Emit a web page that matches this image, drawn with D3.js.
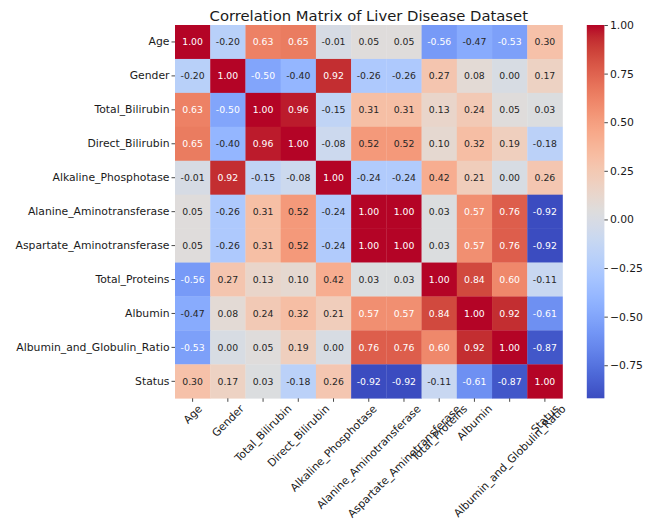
<!DOCTYPE html>
<html>
<head>
<meta charset="utf-8">
<script src="https://cdn.jsdelivr.net/npm/d3@7"></script>
<style>
  html, body { margin: 0; padding: 0; background: #ffffff; }
  svg { display: block; font-family: "DejaVu Sans", sans-serif; }
</style>
</head>
<body>
<svg id="chart" width="648" height="520"></svg>
<script>
// Feature names (rows and columns share the same order)
const features = [
  "Age", "Gender", "Total_Bilirubin", "Direct_Bilirubin", "Alkaline_Phosphotase",
  "Alanine_Aminotransferase", "Aspartate_Aminotransferase", "Total_Proteins",
  "Albumin", "Albumin_and_Globulin_Ratio", "Status"
];

// Pairwise correlation coefficients, one row per feature
const rowAge       = [ 1.00, -0.20,  0.63,  0.65, -0.01,  0.05,  0.05, -0.56, -0.47, -0.53,  0.30];
const rowGender    = [-0.20,  1.00, -0.50, -0.40,  0.92, -0.26, -0.26,  0.27,  0.08,  0.00,  0.17];
const rowTotBili   = [ 0.63, -0.50,  1.00,  0.96, -0.15,  0.31,  0.31,  0.13,  0.24,  0.05,  0.03];
const rowDirBili   = [ 0.65, -0.40,  0.96,  1.00, -0.08,  0.52,  0.52,  0.10,  0.32,  0.19, -0.18];
const rowAlkPhos   = [-0.01,  0.92, -0.15, -0.08,  1.00, -0.24, -0.24,  0.42,  0.21,  0.00,  0.26];
const rowAlanine   = [ 0.05, -0.26,  0.31,  0.52, -0.24,  1.00,  1.00,  0.03,  0.57,  0.76, -0.92];
const rowAspartate = [ 0.05, -0.26,  0.31,  0.52, -0.24,  1.00,  1.00,  0.03,  0.57,  0.76, -0.92];
const rowTotProt   = [-0.56,  0.27,  0.13,  0.10,  0.42,  0.03,  0.03,  1.00,  0.84,  0.60, -0.11];
const rowAlbumin   = [-0.47,  0.08,  0.24,  0.32,  0.21,  0.57,  0.57,  0.84,  1.00,  0.92, -0.61];
const rowAGRatio   = [-0.53,  0.00,  0.05,  0.19,  0.00,  0.76,  0.76,  0.60,  0.92,  1.00, -0.87];
const rowStatus    = [ 0.30,  0.17,  0.03, -0.18,  0.26, -0.92, -0.92, -0.11, -0.61, -0.87,  1.00];
const corr = [rowAge, rowGender, rowTotBili, rowDirBili, rowAlkPhos, rowAlanine,
              rowAspartate, rowTotProt, rowAlbumin, rowAGRatio, rowStatus];

// Colour bar tick values
const colorbarTicks = [1.00, 0.75, 0.50, 0.25, 0.00, -0.25, -0.50, -0.75];

const titleText = "Correlation Matrix of Liver Disease Dataset";

// Cool-warm diverging colour map (Moreland), 33 anchor colours
const coolwarmAnchors = [
  [59,76,192],[68,90,204],[77,104,215],[87,117,225],[98,130,234],[108,142,241],
  [119,154,247],[130,165,251],[141,176,254],[152,185,255],[163,194,255],[174,201,253],
  [184,208,249],[194,213,244],[204,217,238],[213,219,230],[221,221,221],[229,216,209],
  [236,211,197],[241,204,185],[245,196,173],[247,187,160],[247,177,148],[247,166,135],
  [244,154,123],[241,141,111],[236,127,99],[229,112,88],[222,96,77],[213,80,66],
  [203,62,56],[192,40,47],[180,4,38]
];
const coolwarm = d3.piecewise(d3.interpolateRgb, coolwarmAnchors.map(c => d3.rgb(c[0], c[1], c[2])));

// 256-entry lookup table, as a colour map with discrete levels
const lut = d3.range(256).map(i => coolwarm(i / 255));

const allVals = corr.flat();
const vmin = d3.min(allVals), vmax = d3.max(allVals);
const norm = d3.scaleLinear().domain([vmin, vmax]).range([0, 1]).clamp(true);
const colorOf = v => lut[Math.min(255, Math.floor(norm(v) * 256))];

// Text colour chosen by the luminance of the cell beneath it
function luminance(col) {
  const c = d3.rgb(col);
  const lin = x => { x /= 255; return x <= 0.03928 ? x / 12.92 : Math.pow((x + 0.055) / 1.055, 2.4); };
  return 0.2126 * lin(c.r) + 0.7152 * lin(c.g) + 0.0722 * lin(c.b);
}

const svg = d3.select("#chart");
const textColor = "#1a1a1a";
const tickFont = 10.8;

// Heatmap area
const hm = { left: 175, top: 25, right: 562.5, bottom: 398.3 };
const x = d3.scaleBand().domain(features).range([hm.left, hm.right]).padding(0);
const y = d3.scaleBand().domain(features).range([hm.top, hm.bottom]).padding(0);

const cells = [];
corr.forEach((row, i) => row.forEach((v, j) => cells.push({ r: features[i], c: features[j], v })));

svg.append("g").selectAll("rect").data(cells).join("rect")
  .attr("x", d => x(d.c))
  .attr("y", d => y(d.r))
  .attr("width", x.bandwidth() + 0.3)
  .attr("height", y.bandwidth() + 0.3)
  .attr("fill", d => colorOf(d.v));

svg.append("g").selectAll("text").data(cells).join("text")
  .attr("x", d => x(d.c) + x.bandwidth() / 2)
  .attr("y", d => y(d.r) + y.bandwidth() / 2)
  .attr("dy", "0.36em")
  .attr("text-anchor", "middle")
  .attr("font-size", 9.3)
  .attr("fill", d => luminance(colorOf(d.v)) > 0.408 ? "#262626" : "#ffffff")
  .text(d => d.v.toFixed(2));

// Y axis: tick marks on the left with horizontal labels
const yAxis = d3.axisLeft(y).tickSize(3.5).tickPadding(2);
const gy = svg.append("g").attr("transform", `translate(${hm.left},0)`).call(yAxis);
gy.select(".domain").remove();
gy.selectAll(".tick line").attr("stroke", textColor).attr("stroke-width", 0.8);
gy.selectAll(".tick text")
  .attr("font-family", "DejaVu Sans")
  .attr("font-size", tickFont)
  .attr("fill", textColor);

// X axis: tick marks at the bottom, labels rotated 45 degrees and centred under each tick
const xAxis = d3.axisBottom(x).tickSize(3.5).tickFormat("");
const gx = svg.append("g").attr("transform", `translate(0,${hm.bottom})`).call(xAxis);
gx.select(".domain").remove();
gx.selectAll(".tick line").attr("stroke", textColor).attr("stroke-width", 0.8);

const xLabelTop = hm.bottom + 4.3;
const xl = svg.append("g").selectAll("text").data(features).join("text")
  .attr("font-size", tickFont)
  .attr("fill", textColor)
  .attr("text-anchor", "middle")
  .attr("dy", "0.35em")
  .text(d => d);
xl.each(function (d) {
  const w = this.getComputedTextLength();
  const h = tickFont * 1.1;
  const bboxH = (w + h) * Math.SQRT1_2;
  const cx = x(d) + x.bandwidth() / 2;
  const cy = xLabelTop + bboxH / 2;
  d3.select(this)
    .attr("x", 0).attr("y", 0)
    .attr("transform", `translate(${cx},${cy}) rotate(-45)`);
});

// Colour bar
const cb = { left: 586.8, right: 604.4, top: hm.top, bottom: hm.bottom };
const defs = svg.append("defs");
const grad = defs.append("linearGradient")
  .attr("id", "cbgrad")
  .attr("x1", 0).attr("y1", 1).attr("x2", 0).attr("y2", 0);
grad.selectAll("stop").data(d3.range(64)).join("stop")
  .attr("offset", i => i / 63)
  .attr("stop-color", i => coolwarm(i / 63));
svg.append("rect")
  .attr("x", cb.left).attr("y", cb.top)
  .attr("width", cb.right - cb.left).attr("height", cb.bottom - cb.top)
  .attr("fill", "url(#cbgrad)");

const cbScale = d3.scaleLinear().domain([vmin, vmax]).range([cb.bottom, cb.top]);
const cbAxis = d3.axisRight(cbScale).tickValues(colorbarTicks).tickSize(3.5).tickPadding(2)
  .tickFormat(v => (v < 0 ? "\u2212" : "") + Math.abs(v).toFixed(2));
const gcb = svg.append("g").attr("transform", `translate(${cb.right},0)`).call(cbAxis);
gcb.select(".domain").remove();
gcb.selectAll(".tick line").attr("stroke", textColor).attr("stroke-width", 0.8);
gcb.selectAll(".tick text")
  .attr("font-family", "DejaVu Sans")
  .attr("font-size", 10.8)
  .attr("fill", textColor);

// Title
svg.append("text")
  .attr("x", (hm.left + hm.right) / 2)
  .attr("y", 20.5)
  .attr("text-anchor", "middle")
  .attr("font-size", 14.8)
  .attr("fill", textColor)
  .text(titleText);
</script>
</body>
</html>
